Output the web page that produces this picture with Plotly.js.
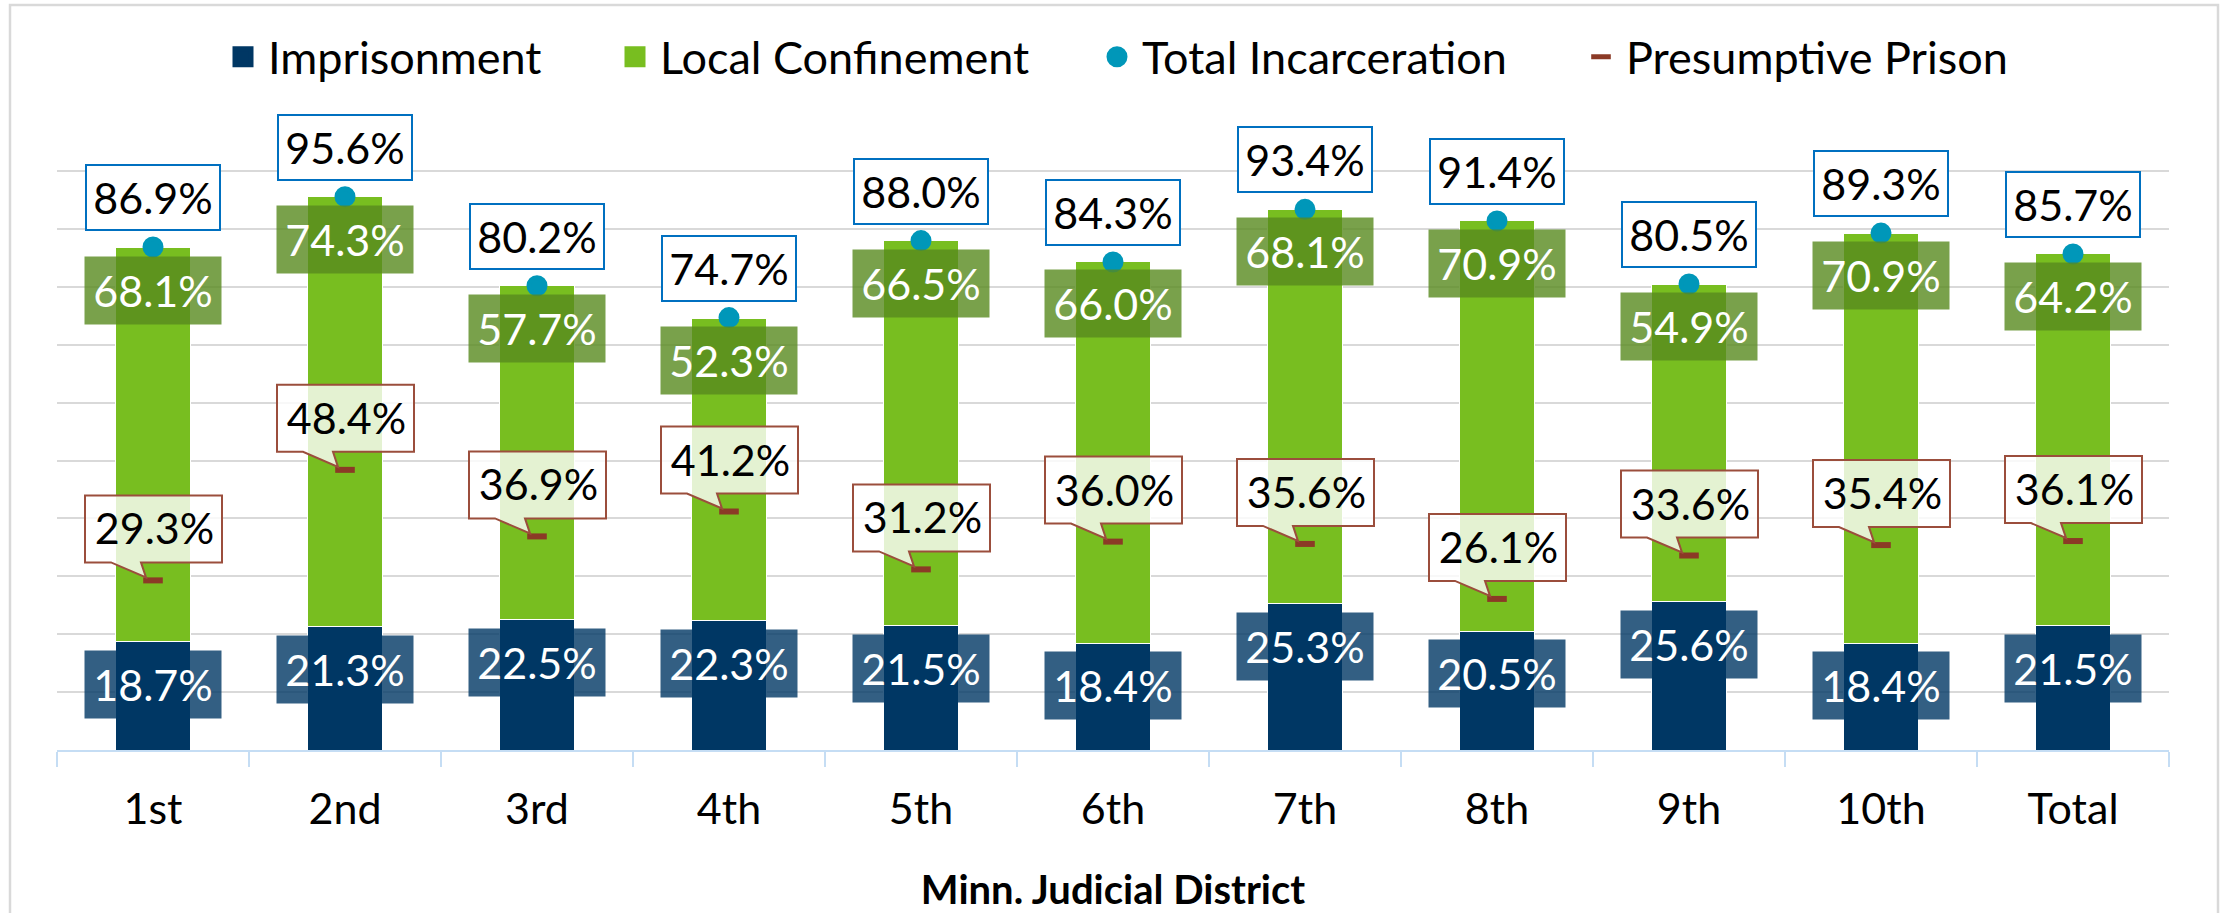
<!DOCTYPE html>
<html>
<head>
<meta charset="utf-8">
<script src="https://cdn.plot.ly/plotly-3.0.1.min.js"></script>
<style>
  html, body { margin: 0; padding: 0; background: #ffffff; }
  #chart { width: 2224px; height: 913px; }
</style>
</head>
<body>
<div id="chart"></div>
<script>
// ---- Data ----
const categories = ['1st', '2nd', '3rd', '4th', '5th', '6th', '7th', '8th', '9th', '10th', 'Total'];
const imprisonment = [18.7, 21.3, 22.5, 22.3, 21.5, 18.4, 25.3, 20.5, 25.6, 18.4, 21.5];
const localConfinement = [68.1, 74.3, 57.7, 52.3, 66.5, 66.0, 68.1, 70.9, 54.9, 70.9, 64.2];
const totalIncarceration = [86.9, 95.6, 80.2, 74.7, 88.0, 84.3, 93.4, 91.4, 80.5, 89.3, 85.7];
const presumptivePrison = [29.3, 48.4, 36.9, 41.2, 31.2, 36.0, 35.6, 26.1, 33.6, 35.4, 36.1];
const seriesNames = ['Imprisonment', 'Local Confinement', 'Total Incarceration', 'Presumptive Prison'];
const xAxisTitle = 'Minn. Judicial District';

// ---- Styling ----
const FONT = 'Lato, "Open Sans", "Liberation Sans", sans-serif';
const NAVY = '#003764';
const GREEN = '#78be20';
const TEAL = '#0097b9';
const BROWN = '#8b3a26';
const W = 2224, H = 913;
const YMAX = 100.2;                       // a hair above 100 so the 100% gridline is drawn
const L = 57, R = 2169, B = 750;
const PX_PER_UNIT = (750 - 171) / 100;
const T = Math.round(B - YMAX * PX_PER_UNIT);
const px2x = p => (p - L) / (R - L);
const py2y = p => (B - p) / (B - T);
const fmt = v => v.toFixed(1) + '%';

const traces = [
  {
    type: 'bar', name: seriesNames[0], x: categories, y: imprisonment,
    marker: { color: NAVY, line: { color: '#ffffff', width: 1 } },
    showlegend: false, hoverinfo: 'x+y'
  },
  {
    type: 'bar', name: seriesNames[1], x: categories, y: localConfinement,
    marker: { color: GREEN, line: { color: '#ffffff', width: 1 } },
    showlegend: false, hoverinfo: 'x+y'
  },
  {
    type: 'scatter', mode: 'markers', name: seriesNames[2], x: categories, y: totalIncarceration,
    marker: { symbol: 'circle', color: TEAL, size: 16, line: { color: TEAL, width: 5 } },
    legend: 'legend3'
  },
  {
    type: 'scatter', mode: 'markers', name: seriesNames[3], x: categories, y: presumptivePrison,
    marker: { symbol: 'line-ew', size: 14, line: { color: BROWN, width: 6 } },
    legend: 'legend4'
  },
  // legend entries for the bar series (larger square swatches)
  {
    type: 'scatter', mode: 'markers', name: seriesNames[0], x: [null], y: [null],
    marker: { symbol: 'square', color: NAVY, size: 16, line: { color: NAVY, width: 5 } },
    legend: 'legend', hoverinfo: 'skip'
  },
  {
    type: 'scatter', mode: 'markers', name: seriesNames[1], x: [null], y: [null],
    marker: { symbol: 'square', color: GREEN, size: 16, line: { color: GREEN, width: 5 } },
    legend: 'legend2', hoverinfo: 'skip'
  }
];

// ---- Data labels ----
const annotations = [];
const shapes = [];
categories.forEach((c, i) => {
  annotations.push({
    x: c, y: imprisonment[i], xref: 'x', yref: 'y', showarrow: false,
    yanchor: 'top', yshift: -8, width: 136, height: 67, borderpad: 0,
    bgcolor: 'rgba(0,55,100,0.8)', text: fmt(imprisonment[i]),
    font: { family: FONT, size: 43, color: '#ffffff' }
  });
  annotations.push({
    x: c, y: imprisonment[i] + localConfinement[i], xref: 'x', yref: 'y', showarrow: false,
    yanchor: 'top', yshift: -8, width: 136, height: 67, borderpad: 0,
    bgcolor: 'rgba(88,138,30,0.8)', text: fmt(localConfinement[i]),
    font: { family: FONT, size: 43, color: '#ffffff' }
  });
  annotations.push({
    x: c, y: totalIncarceration[i], xref: 'x', yref: 'y', showarrow: false,
    yanchor: 'bottom', yshift: 16, width: 132, height: 63, borderpad: 0,
    bgcolor: '#ffffff', bordercolor: '#0070c0', borderwidth: 2, text: fmt(totalIncarceration[i]),
    font: { family: FONT, size: 43, color: '#000000' }
  });
  shapes.push({
    type: 'path', layer: 'above', xref: 'x', yref: 'y',
    xsizemode: 'pixel', ysizemode: 'pixel', xanchor: c, yanchor: presumptivePrison[i],
    path: 'M-68,18 L-42,18 L-7,3 L-12,18 L69,18 L69,85 L-68,85 Z',
    fillcolor: 'rgba(255,255,255,0.8)', line: { color: '#9b4e3c', width: 2 }
  });
  annotations.push({
    x: c, y: presumptivePrison[i], xref: 'x', yref: 'y', showarrow: false,
    yanchor: 'bottom', yshift: 18, xshift: 1, width: 137, height: 67, borderpad: 0,
    text: fmt(presumptivePrison[i]),
    font: { family: FONT, size: 43, color: '#000000' }
  });
});

// chart frame
shapes.push({
  type: 'rect', xref: 'paper', yref: 'paper', layer: 'below',
  x0: px2x(10), x1: px2x(2218), y0: py2y(960), y1: py2y(5),
  line: { color: '#d9d9d9', width: 2.5 }, fillcolor: 'rgba(0,0,0,0)'
});

const legendBase = {
  orientation: 'h', xref: 'paper', yref: 'paper', xanchor: 'left', yanchor: 'middle',
  y: py2y(57), font: { family: FONT, size: 45, color: '#000000' }, itemwidth: 40,
  bgcolor: 'rgba(0,0,0,0)', itemsizing: 'trace'
};

const layout = {
  width: W, height: H,
  margin: { l: L, r: W - R, t: T, b: H - B, pad: 0, autoexpand: false },
  paper_bgcolor: '#ffffff', plot_bgcolor: '#ffffff',
  font: { family: FONT, size: 43, color: '#000000' },
  barmode: 'stack', bargap: 0.61,
  showlegend: true,
  legend: Object.assign({}, legendBase, { x: px2x(218) }),
  legend2: Object.assign({}, legendBase, { x: px2x(610) }),
  legend3: Object.assign({}, legendBase, { x: px2x(1092) }),
  legend4: Object.assign({}, legendBase, { x: px2x(1576) }),
  xaxis: {
    type: 'category', range: [-0.5, categories.length - 0.5], autorange: false,
    showgrid: false, showline: true, linecolor: '#c5ddf4', linewidth: 2,
    ticks: 'outside', tickson: 'boundaries', ticklen: 15, tickwidth: 2, tickcolor: '#c5ddf4',
    ticklabelstandoff: 20,
    tickfont: { family: FONT, size: 43, color: '#000000' },
    title: { text: xAxisTitle, font: { family: FONT, size: 40, color: '#000000', weight: 'bold' }, standoff: 48 },
    automargin: false, fixedrange: true
  },
  yaxis: {
    range: [0, YMAX], autorange: false, tick0: 0, dtick: 10, showticklabels: false,
    showgrid: true, gridcolor: '#d9d9d9', gridwidth: 2, zeroline: false, showline: false,
    automargin: false, fixedrange: true
  },
  annotations: annotations,
  shapes: shapes
};

Plotly.newPlot('chart', traces, layout, { displayModeBar: false, staticPlot: true });
</script>
</body>
</html>
